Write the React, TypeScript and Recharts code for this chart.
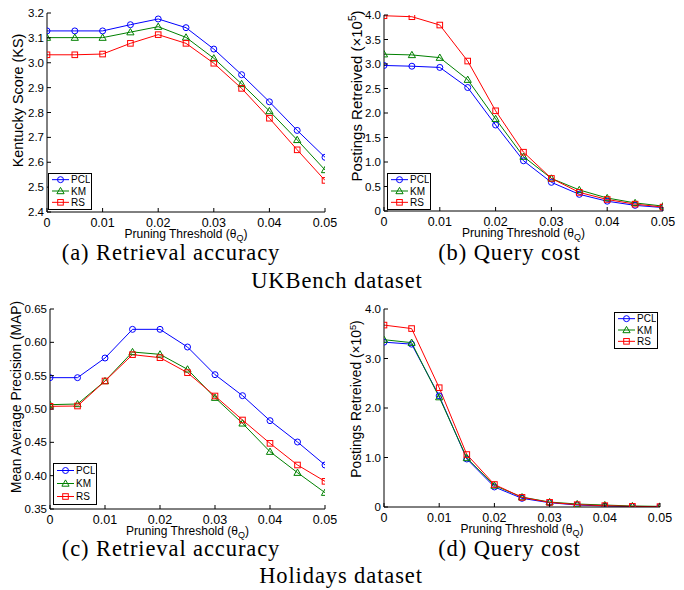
import React from 'react';
import { LineChart, Line, XAxis, YAxis, Legend } from 'recharts';

// ---------- data ----------
const thresholds = [0, 0.005, 0.01, 0.015, 0.02, 0.025, 0.03, 0.035, 0.04, 0.045, 0.05];
const xTicks = [0, 0.01, 0.02, 0.03, 0.04, 0.05];

const seriesNames = ['PCL', 'KM', 'RS'];
const seriesColors = ['#0000ff', '#008000', '#ff0000'];
const seriesShapes = ['circle', 'triangle', 'square'];

// UKBench - Kentucky Score
const ukKsPCL = [3.128, 3.128, 3.128, 3.153, 3.176, 3.141, 3.055, 2.952, 2.843, 2.728, 2.62];
const ukKsKM = [3.101, 3.101, 3.101, 3.123, 3.145, 3.102, 3.018, 2.915, 2.806, 2.69, 2.569];
const ukKsRS = [3.032, 3.032, 3.035, 3.078, 3.113, 3.078, 2.998, 2.897, 2.777, 2.65, 2.527];

// UKBench - postings retrieved (x10^5)
const ukCostPCL = [2.97, 2.955, 2.93, 2.52, 1.755, 1.025, 0.585, 0.34, 0.2, 0.115, 0.07];
const ukCostKM = [3.2, 3.185, 3.13, 2.68, 1.88, 1.11, 0.665, 0.43, 0.265, 0.165, 0.1];
const ukCostRS = [3.985, 3.965, 3.795, 3.06, 2.045, 1.2, 0.665, 0.38, 0.235, 0.14, 0.08];

// Holidays - MAP
const hoMapPCL = [0.547, 0.547, 0.5765, 0.6195, 0.6195, 0.593, 0.5515, 0.52, 0.4825, 0.4505, 0.416];
const hoMapKM = [0.5065, 0.5075, 0.542, 0.5855, 0.582, 0.5595, 0.517, 0.4785, 0.436, 0.4045, 0.3745];
const hoMapRS = [0.504, 0.5045, 0.542, 0.5815, 0.577, 0.5545, 0.5195, 0.4835, 0.4485, 0.416, 0.3915];

// Holidays - postings retrieved (x10^5)
const hoCostPCL = [3.33, 3.29, 2.245, 0.97, 0.405, 0.175, 0.087, 0.04, 0.02, 0.008, 0.007];
const hoCostKM = [3.38, 3.32, 2.22, 0.99, 0.435, 0.2, 0.1, 0.06, 0.04, 0.02, 0.013];
const hoCostRS = [3.675, 3.605, 2.41, 1.06, 0.455, 0.195, 0.094, 0.047, 0.027, 0.013, 0.007];

const ksTicks = [2.4, 2.5, 2.6, 2.7, 2.8, 2.9, 3.0, 3.1, 3.2];
const ukCostTicks = [0, 0.5, 1.0, 1.5, 2.0, 2.5, 3.0, 3.5, 4.0];
const mapTicks = [0.35, 0.4, 0.45, 0.5, 0.55, 0.6, 0.65];
const hoCostTicks = [0, 1.0, 2.0, 3.0, 4.0];

const captions = ['(a) Retrieval accuracy', '(b) Query cost', 'UKBench dataset', '(c) Retrieval accuracy', '(d) Query cost', 'Holidays dataset'];

const build = (a: number[], b: number[], c: number[]) =>
  thresholds.map((t, i) => ({ t, PCL: a[i], KM: b[i], RS: c[i] }));

const SANS = '"Liberation Sans", Arial, Helvetica, sans-serif';
const SERIF = '"Liberation Serif", "Times New Roman", serif';

// ---------- markers ----------
function marker(shape: string, cx: number, cy: number, color: string, key?: any) {
  if (shape === 'circle') {
    return <circle key={key} cx={cx} cy={cy} r={3} fill="none" stroke={color} strokeWidth={1} />;
  }
  if (shape === 'triangle') {
    const s = 3.6;
    return (
      <polygon
        key={key}
        points={`${cx},${cy - s} ${cx - s},${cy + s * 0.75} ${cx + s},${cy + s * 0.75}`}
        fill="none"
        stroke={color}
        strokeWidth={1}
      />
    );
  }
  return <rect key={key} x={cx - 2.8} y={cy - 2.8} width={5.6} height={5.6} fill="none" stroke={color} strokeWidth={1} />;
}

const makeDot = (shape: string, color: string) => (props: any) => {
  const { cx, cy, index } = props;
  if (cx == null || cy == null) return <g key={index} />;
  return marker(shape, cx, cy, color, index);
};

// ---------- ticks ----------
const xFmt = (v: number) => (v === 0 ? '0' : String(Number(v.toFixed(2))));

const BottomTick = (props: any) => {
  const { x, y, payload } = props;
  return (
    <g>
      <line x1={x} x2={x} y1={y} y2={y - 4} stroke="#000" strokeWidth={1} />
      <text x={x} y={y + 14.5} textAnchor="middle" fontSize={12.5} fontFamily={SANS} fill="#000">
        {xFmt(payload.value)}
      </text>
    </g>
  );
};

const makeLeftTick = (fmt: (v: number) => string) => (props: any) => {
  const { x, y, payload } = props;
  return (
    <g>
      <line x1={x} x2={x + 4} y1={y} y2={y} stroke="#000" strokeWidth={1} />
      <text x={x - 3} y={y + 4} textAnchor="end" fontSize={11.5} fontFamily={SANS} fill="#000">
        {fmt(payload.value)}
      </text>
    </g>
  );
};

// ---------- labels ----------
const XLabel = (props: any) => {
  const vb = props.viewBox || {};
  const cx = vb.x + vb.width / 2;
  const y = vb.y + 26;
  return (
    <text x={cx} y={y} textAnchor="middle" fontSize={12} fontFamily={SANS} fill="#000">
      Pruning Threshold (θ
      <tspan dy={3} fontSize={9}>Q</tspan>
      <tspan dy={-3}>)</tspan>
    </text>
  );
};

const makeYLabel = (text: string, sup: boolean, baseX: number, shiftY: number, size: number) => (props: any) => {
  const vb = props.viewBox || {};
  const bx = vb.x + baseX;
  const cy = vb.y + vb.height / 2 + shiftY;
  return (
    <text
      x={bx}
      y={cy}
      transform={`rotate(-90 ${bx} ${cy})`}
      textAnchor="middle"
      fontSize={size}
      fontFamily={SANS}
      fill="#000"
    >
      {text}
      {sup ? (
        <>
          {' (×10'}
          <tspan dy={-size * 0.38} fontSize={size * 0.68}>5</tspan>
          <tspan dy={size * 0.38}>)</tspan>
        </>
      ) : null}
    </text>
  );
};

// ---------- legend ----------
const makeLegendBox = (h: number) => () => {
  const w = 44;
  const step = (h - 3) / 3;
  return (
    <div style={{ width: w - 3, height: h - 3, position: 'relative' }}>
      <svg width={w - 3} height={h - 3} style={{ display: 'block', position: 'absolute', left: 0, top: 0 }}>
        {seriesNames.map((n, i) => {
          const cy = step * (i + 0.5);
          return (
            <g key={n}>
              <line x1={3} x2={20} y1={cy} y2={cy} stroke={seriesColors[i]} strokeWidth={1} />
              {marker(seriesShapes[i], 11.5, cy, seriesColors[i])}
              <text x={22} y={cy + 3.6} fontSize={10} fontFamily={SANS} fill="#000">
                {n}
              </text>
            </g>
          );
        })}
      </svg>
    </div>
  );
};

// ---------- panel ----------
type PanelProps = {
  left: number;
  top: number;
  data: any[];
  yDomain: [number, number];
  yTicks: number[];
  yFmt: (v: number) => string;
  yLabel: string;
  sup: boolean;
  yLabelX: number;
  yLabelShift: number;
  yLabelSize: number;
  yAxisWidth: number;
  xAxisHeight: number;
  margin: { top: number; right: number; left: number; bottom: number };
  legend: { left: number; top: number; height: number };
};

function Panel(p: PanelProps) {
  return (
    <div style={{ position: 'absolute', left: p.left, top: p.top }}>
      <LineChart width={342} height={245} data={p.data} margin={p.margin}>
        <XAxis
          dataKey="t"
          type="number"
          domain={[0, 0.05]}
          ticks={xTicks}
          allowDataOverflow
          height={p.xAxisHeight}
          tickSize={0}
          tickMargin={0}
          tickLine={false}
          tick={BottomTick}
          stroke="#000"
          interval={0}
          label={{ content: XLabel }}
        />
        <XAxis
          xAxisId="top"
          orientation="top"
          type="number"
          domain={[0, 0.05]}
          ticks={xTicks}
          allowDataOverflow
          height={0}
          mirror
          tick={false}
          tickSize={4}
          stroke="#000"
          interval={0}
        />
        <YAxis
          type="number"
          domain={p.yDomain}
          ticks={p.yTicks}
          allowDataOverflow
          width={p.yAxisWidth}
          tickSize={0}
          tickMargin={0}
          tickLine={false}
          tick={makeLeftTick(p.yFmt)}
          stroke="#000"
          interval={0}
          label={{ content: makeYLabel(p.yLabel, p.sup, p.yLabelX, p.yLabelShift, p.yLabelSize) }}
        />
        <YAxis
          yAxisId="right"
          orientation="right"
          type="number"
          domain={p.yDomain}
          ticks={p.yTicks}
          allowDataOverflow
          width={0}
          mirror
          tick={false}
          tickSize={4}
          stroke="#000"
          interval={0}
        />
        {seriesNames.map((n, i) => (
          <Line
            key={n}
            dataKey={n}
            type="linear"
            stroke={seriesColors[i]}
            strokeWidth={1}
            dot={makeDot(seriesShapes[i], seriesColors[i])}
            activeDot={false}
            isAnimationActive={false}
          />
        ))}
        <Legend
          layout="vertical"
          align="center"
          verticalAlign="middle"
          content={makeLegendBox(p.legend.height)}
          wrapperStyle={{
            left: p.legend.left,
            top: p.legend.top,
            width: 44,
            height: p.legend.height,
            bottom: 'auto',
            right: 'auto',
            border: '1.5px solid #000',
            background: '#fff',
            boxSizing: 'border-box',
            zIndex: 5,
          }}
        />
      </LineChart>
    </div>
  );
}

const fmt1 = (v: number) => v.toFixed(1);
const fmtCost = (v: number) => (v === 0 ? '0' : v.toFixed(1));
const fmt2 = (v: number) => v.toFixed(2);

export default function App() {
  return (
    <div style={{ position: 'absolute', left: 0, top: 0, width: 684, height: 590, background: '#fff', overflow: 'hidden' }}>
      <Panel
        left={0}
        top={0}
        data={build(ukKsPCL, ukKsKM, ukKsRS)}
        yDomain={[2.4, 3.2]}
        yTicks={ksTicks}
        yFmt={fmt1}
        yLabel="Kentucky Score (KS)"
        sup={false}
        yLabelX={23}
        yLabelShift={-12}
        yLabelSize={14.4}
        yAxisWidth={47}
        xAxisHeight={33}
        margin={{ top: 13, right: 17, left: 0, bottom: 0 }}
        legend={{ left: 48, top: 173, height: 37 }}
      />
      <Panel
        left={342}
        top={0}
        data={build(ukCostPCL, ukCostKM, ukCostRS)}
        yDomain={[0, 4]}
        yTicks={ukCostTicks}
        yFmt={fmtCost}
        yLabel="Postings Retreived"
        sup={true}
        yLabelX={19.5}
        yLabelShift={-17}
        yLabelSize={15}
        yAxisWidth={42}
        xAxisHeight={34}
        margin={{ top: 15, right: 21, left: 0, bottom: 0 }}
        legend={{ left: 45, top: 173, height: 37 }}
      />
      <Panel
        left={0}
        top={295}
        data={build(hoMapPCL, hoMapKM, hoMapRS)}
        yDomain={[0.35, 0.65]}
        yTicks={mapTicks}
        yFmt={fmt2}
        yLabel="Mean Average Precision (MAP)"
        sup={false}
        yLabelX={20.7}
        yLabelShift={-12}
        yLabelSize={13.8}
        yAxisWidth={50}
        xAxisHeight={31}
        margin={{ top: 14, right: 17, left: 0, bottom: 0 }}
        legend={{ left: 53, top: 168, height: 42 }}
      />
      <Panel
        left={342}
        top={295}
        data={build(hoCostPCL, hoCostKM, hoCostRS)}
        yDomain={[0, 4]}
        yTicks={hoCostTicks}
        yFmt={fmtCost}
        yLabel="Postings  Retreived"
        sup={true}
        yLabelX={19.3}
        yLabelShift={-9}
        yLabelSize={13.8}
        yAxisWidth={42}
        xAxisHeight={33}
        margin={{ top: 14, right: 24, left: 0, bottom: 0 }}
        legend={{ left: 272, top: 17, height: 37 }}
      />
      <svg
        width={684}
        height={590}
        style={{ position: 'absolute', left: 0, top: 0, pointerEvents: 'none' }}
      >
        <g fontFamily={SERIF} fontSize={22.5} fill="#000" textAnchor="middle" letterSpacing={0.9}>
          <text x={171} y={260}>{captions[0]}</text>
          <text x={509.5} y={260}>{captions[1]}</text>
          <text x={337} y={288}>{captions[2]}</text>
          <text x={171} y={556}>{captions[3]}</text>
          <text x={509.5} y={556}>{captions[4]}</text>
          <text x={341} y={583}>{captions[5]}</text>
        </g>
      </svg>
    </div>
  );
}
